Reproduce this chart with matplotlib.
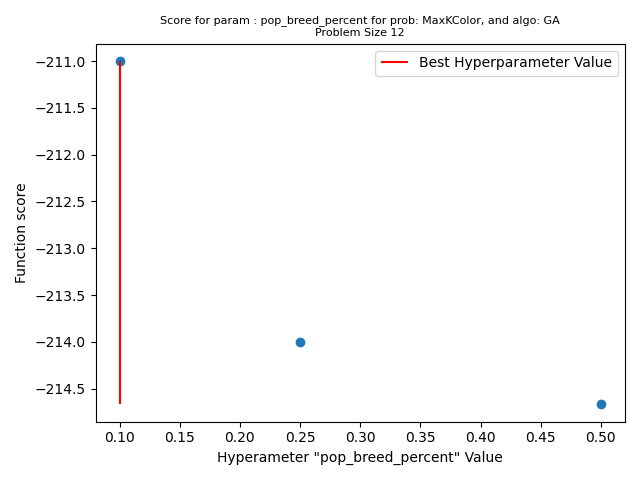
import matplotlib
matplotlib.use("Agg")
import matplotlib.pyplot as plt

# hyperparameter values and scores
param_values = [0.1, 0.25, 0.5]
scores = [-211.0, -214.0, -214.667]
param_name = "pop_breed_percent"

best_idx = scores.index(max(scores))
best_value = param_values[best_idx]

fig, ax = plt.subplots(figsize=(6.4, 4.8), dpi=100)
ax.scatter(param_values, scores)
ax.vlines(best_value, min(scores), max(scores), color="red", label="Best Hyperparameter Value")
ax.set_title(f"Score for param : {param_name} for prob: MaxKColor, and algo: GA\nProblem Size 12", fontsize=8)
ax.set_xlabel(f'Hyperameter "{param_name}" Value')
ax.set_ylabel("Function score")
ax.legend()
fig.tight_layout()
fig.savefig("out.png")
